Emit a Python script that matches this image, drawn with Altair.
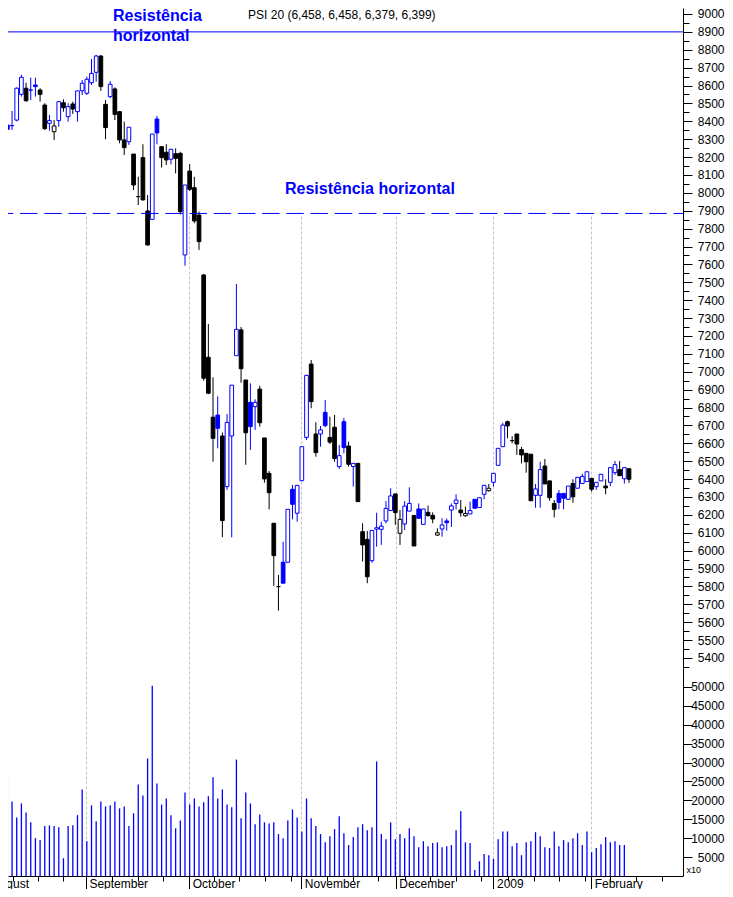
import altair as alt
import pandas as pd

FONT = "Liberation Sans"
BLUE = "#0000ff"

# ---------------- data ----------------
opens = [8379, 8379, 8376, 8407, 8551, 8585, 8575, 8603, 8575, 8491,
         8389, 8342, 8404, 8504, 8426, 8497, 8454, 8571, 8557, 8616,
         8674, 8765, 8495, 8538, 8581, 8454, 8296, 8286, 8217, 7979,
         8197, 7899, 7852, 8413, 8258, 8227, 8188, 8219, 8221, 7653,
         8122, 8029, 7876, 7541, 7081, 6746, 6758, 6641, 6358, 6641,
         7090, 7234, 6954, 6829, 6805, 6903, 6630, 6432, 6153, 5799,
         5935, 5935, 6343, 6209, 6391, 6633, 7043, 6652, 6652, 6773,
         6633, 6690, 6470, 6721, 6585, 6470, 6488, 6106, 6063, 5944,
         6120, 6119, 6166, 6224, 6317, 6097, 6149, 6221, 6197, 6233,
         6147, 6214, 6197, 6087, 6121, 6166, 6227, 6264, 6227, 6195,
         6205, 6287, 6241, 6315, 6335, 6382, 6477, 6581, 6721, 6615,
         6652, 6565, 6544, 6539, 6309, 6309, 6473, 6390, 6264, 6320,
         6320, 6287, 6375, 6349, 6375, 6386, 6404, 6358, 6390, 6361,
         6382, 6436, 6453, 6402, 6458]
highs = [8395, 8424, 8458, 8590, 8661, 8616, 8644, 8644, 8585, 8501,
         8435, 8407, 8510, 8523, 8501, 8510, 8570, 8631, 8650, 8748,
         8771, 8771, 8519, 8625, 8590, 8458, 8398, 8367, 8217, 8090,
         8272, 7988, 8329, 8430, 8262, 8272, 8244, 8249, 8230, 8044,
         8161, 8090, 7895, 7547, 7267, 6969, 6862, 6660, 6764, 6925,
         7491, 7250, 6954, 6935, 6846, 6922, 6630, 6445, 6153, 5864,
         6050, 6231, 6367, 6365, 6581, 6980, 7066, 6718, 6697, 6842,
         6749, 6758, 6591, 6742, 6609, 6488, 6488, 6153, 6110, 6113,
         6212, 6162, 6277, 6349, 6317, 6227, 6277, 6354, 6197, 6264,
         6233, 6252, 6214, 6125, 6181, 6179, 6264, 6315, 6283, 6246,
         6274, 6287, 6296, 6365, 6373, 6432, 6572, 6715, 6727, 6640,
         6652, 6580, 6544, 6539, 6373, 6497, 6512, 6390, 6283, 6339,
         6320, 6361, 6399, 6410, 6430, 6441, 6404, 6382, 6427, 6399,
         6464, 6501, 6501, 6464, 6458]
lows = [8183, 8186, 8352, 8400, 8538, 8510, 8519, 8538, 8510, 8352,
        8348, 8296, 8370, 8454, 8398, 8441, 8398, 8547, 8547, 8603,
        8622, 8570, 8300, 8529, 8407, 8277, 8212, 8268, 8016, 7932,
        7956, 7705, 7852, 8272, 8141, 8156, 8160, 8109, 7880, 7593,
        8010, 7830, 7681, 6950, 6875, 6497, 6572, 6075, 6340, 6075,
        7090, 6939, 6480, 6563, 6675, 6693, 6380, 6231, 5803, 5665,
        5818, 5935, 6175, 6162, 6391, 6619, 6796, 6525, 6581, 6690,
        6596, 6497, 6457, 6544, 6470, 6358, 6274, 5939, 5818, 5933,
        6022, 6032, 6153, 6224, 6144, 6032, 6116, 6221, 6026, 6181,
        6147, 6190, 6153, 6082, 6078, 6112, 6133, 6231, 6190, 6190,
        6205, 6237, 6241, 6287, 6330, 6358, 6477, 6581, 6628, 6600,
        6535, 6488, 6436, 6279, 6240, 6240, 6373, 6279, 6186, 6231,
        6231, 6287, 6268, 6349, 6375, 6386, 6330, 6340, 6390, 6315,
        6361, 6423, 6419, 6375, 6379]
closes = [8189, 8355, 8376, 8585, 8646, 8515, 8575, 8594, 8551, 8359,
          8404, 8374, 8510, 8476, 8482, 8469, 8570, 8613, 8635, 8668,
          8765, 8594, 8365, 8607, 8439, 8296, 8253, 8367, 8044, 7979,
          7961, 7709, 8329, 8335, 8197, 8184, 8244, 8193, 7895, 8044,
          8020, 7843, 7727, 6964, 6880, 6628, 6684, 6168, 6717, 6925,
          7237, 7017, 6659, 6693, 6829, 6715, 6401, 6324, 5972, 5799,
          5818, 6231, 6259, 6365, 6581, 6980, 6833, 6548, 6675, 6699,
          6607, 6515, 6531, 6576, 6483, 6488, 6274, 6032, 5854, 6113,
          6128, 6137, 6236, 6306, 6213, 6175, 6249, 6264, 6026, 6181,
          6233, 6196, 6177, 6100, 6144, 6156, 6250, 6283, 6212, 6208,
          6224, 6237, 6296, 6365, 6349, 6432, 6572, 6702, 6697, 6615,
          6596, 6535, 6497, 6279, 6345, 6453, 6373, 6296, 6231, 6270,
          6293, 6361, 6301, 6410, 6415, 6441, 6343, 6382, 6427, 6351,
          6464, 6481, 6419, 6464, 6399]
volumes = [24800, 26600, 19700, 15500, 19200, 16800, 14200, 10000, 9500, 13200,
           13400, 13200, 12900, 4700, 13200, 13400, 16100, 22900, 9200, 18700,
           14500, 19700, 18400, 18700, 19700, 17900, 18400, 13200, 16600, 24200,
           21300, 31100, 50300, 24500, 18900, 20500, 16100, 12600, 14700, 22100,
           18900, 20500, 18400, 19500, 21100, 26100, 20500, 22900, 18900, 18200,
           30800, 15300, 22100, 19200, 13700, 16300, 14200, 13900, 14200, 11100,
           10000, 14700, 17600, 15500, 11800, 20500, 15300, 13200, 11100, 8900,
           10500, 12400, 15800, 11300, 8200, 10300, 12900, 13700, 12100, 12900,
           30300, 11100, 9700, 14200, 9700, 11100, 10000, 12600, 10500, 7600,
           9200, 7900, 8700, 8900, 7600, 7900, 8200, 12100, 17100, 8900,
           8700, 1600, 3900, 5800, 5500, 4500, 9700, 11800, 11800, 7900,
           8700, 5500, 8900, 9200, 11600, 10500, 7600, 7400, 11800, 7900,
           9500, 8900, 10000, 11300, 8200, 11800, 6300, 7400, 8400, 10300,
           8900, 9200, 8200, 8200]

month_names = ["August", "September", "October", "November", "December", "2009", "February"]
month_idx = [-3, 17.8, 39.9, 63.9, 84.1, 105, 125.9]
week_idx = [2.2, 7.6, 12.9, 23.3, 28.9, 34.3, 45.3, 50.6, 56.2, 61.7, 69.4, 74.9,
            80.4, 86, 91.4, 96.9, 102.4, 108.1, 113.6, 119.1, 124.6, 130, 135.5, 141]
price_ticks = list(range(5350, 9001, 50))
vol_ticks = list(range(5000, 50001, 5000))
resist_solid = [8900]
resist_dashed = [7885]
series_name = "PSI 20"
annot_text = "Resistência horizontal"

# ---------------- tables ----------------
n = len(closes)
prev = [opens[0]] + closes[:-1]
col = [BLUE if c >= p else "#000000" for c, p in zip(closes, prev)]
fillc = [cl if c < o else "#ffffff" for cl, c, o in zip(col, closes, opens)]
df = pd.DataFrame({"idx": list(range(n)), "o": opens, "h": highs, "l": lows,
                   "c": closes, "col": col, "fillc": fillc})
vdf = pd.DataFrame({"idx": list(range(len(volumes))), "v": volumes, "zero": 0})

title_txt = "%s (%s, %s, %s, %s)" % (series_name, f"{opens[-1]:,}", f"{highs[-1]:,}",
                                     f"{lows[-1]:,}", f"{closes[-1]:,}")
title_df = pd.DataFrame({"idx": [52.5], "p": [8972], "t": [title_txt]})
ann1_df = pd.DataFrame({"idx": [23.6], "p": [8961], "t": [annot_text.replace(" ", "\n")]})
ann2_df = pd.DataFrame({"idx": [60.4], "p": [7996], "t": [annot_text]})
x10_df = pd.DataFrame({"idx": [146.3], "v": [900], "t": ["x10"]})
aug_df = pd.DataFrame({"idx": [month_idx[0]], "v": [-3175], "t": [month_names[0]]})
solid_df = pd.DataFrame({"p": resist_solid})
dashed_df = pd.DataFrame({"p": resist_dashed})

# ---------------- scales / axes ----------------
xscale = alt.Scale(domain=[1.134, 145.55], nice=False, zero=False, padding=0)
pscale = alt.Scale(domain=[5344, 9033.5], range=[660, 0], nice=False, zero=False)
vscale = alt.Scale(domain=[0, 55026], range=[868, 660], nice=False, zero=False)

marr = "[" + ",".join(str(m) for m in month_idx) + "]"
narr = "[" + ",".join("'%s'" % s for s in month_names) + "]"
mtest = "indexof(%s, datum.value) >= 0" % marr

x_axis = alt.Axis(
    values=sorted(month_idx + week_idx), title=None,
    grid=True, gridColor="#c4c4c4", gridDash=[3, 2], gridWidth=1,
    gridOpacity={"condition": {"test": mtest, "value": 1}, "value": 0},
    tickSize={"condition": {"test": mtest, "value": 13}, "value": 5},
    tickColor="black", domainColor="black",
    labelExpr="%s ? %s[indexof(%s, datum.value)] : ''" % (mtest, narr, marr),
    labelAlign="left", labelOffset=3, labelBaseline="alphabetic", labelPadding=-2,
    labelFont=FONT, labelFontSize=12, labelColor="black",
    labelOverlap=False, labelFlush=False, labelBound=False)

ptest = "datum.value % 100 === 0"
p_axis = alt.Axis(
    orient="right", values=price_ticks, title=None, grid=False,
    tickSize={"condition": {"test": ptest, "value": 9}, "value": 6},
    tickColor="black", domainColor="black",
    labelExpr="%s ? '' + datum.value : ''" % ptest,
    labelAlign="right", labelBaseline="middle", labelPadding=32,
    labelFont=FONT, labelFontSize=12, labelColor="black",
    labelOverlap=False, labelFlush=False)

v_axis = alt.Axis(
    orient="right", values=vol_ticks, title=None, grid=False,
    tickSize=9, tickColor="black", domainColor="black",
    labelExpr="'' + datum.value",
    labelAlign="right", labelBaseline="middle", labelPadding=32,
    labelFont=FONT, labelFontSize=12, labelColor="black",
    labelOverlap=False, labelFlush=False)


def X():
    return alt.X("idx:Q", scale=xscale, axis=x_axis, title=None)


def YP(field):
    return alt.Y(field + ":Q", scale=pscale, axis=p_axis, title=None)


def YV(field):
    return alt.Y(field + ":Q", scale=vscale, axis=v_axis, title=None)


# ---------------- price layers ----------------
wicks = alt.Chart(df).mark_rule(strokeWidth=1, clip=True).encode(
    x=X(), y=YP("l"), y2="h:Q", stroke=alt.Stroke("col:N", scale=None))
bodies = alt.Chart(df).mark_bar(size=3.7, strokeWidth=1, clip=True).encode(
    x=X(), y=YP("o"), y2="c:Q",
    fill=alt.Fill("fillc:N", scale=None), stroke=alt.Stroke("col:N", scale=None))
solid = alt.Chart(solid_df).mark_rule(color=BLUE, strokeWidth=1).encode(y=YP("p"))
dashed = alt.Chart(dashed_df).mark_rule(color=BLUE, strokeWidth=1,
                                        strokeDash=[17.5, 6.7], strokeDashOffset=8).encode(y=YP("p"))
ttl = alt.Chart(title_df).mark_text(font=FONT, fontSize=12, color="black",
                                    align="left", baseline="alphabetic").encode(
    x=X(), y=YP("p"), text="t:N")
ann1 = alt.Chart(ann1_df).mark_text(font=FONT, fontSize=16, fontWeight="bold", color=BLUE,
                                    align="left", baseline="alphabetic",
                                    lineBreak="\n", lineHeight=20).encode(
    x=X(), y=YP("p"), text="t:N")
ann2 = alt.Chart(ann2_df).mark_text(font=FONT, fontSize=16, fontWeight="bold", color=BLUE,
                                    align="left", baseline="alphabetic").encode(
    x=X(), y=YP("p"), text="t:N")

price = alt.layer(wicks, bodies, solid, dashed, ttl, ann1, ann2)

# ---------------- volume layers ----------------
vbars = alt.Chart(vdf).mark_rule(color=BLUE, strokeWidth=1.3, clip=True).encode(
    x=X(), y=YV("v"), y2="zero:Q")
x10 = alt.Chart(x10_df).mark_text(font=FONT, fontSize=9, color="black",
                                  align="left", baseline="alphabetic").encode(
    x=X(), y=YV("v"), text="t:N")
aug = alt.Chart(aug_df).mark_text(font=FONT, fontSize=12, color="black", dx=3,
                                  align="left", baseline="alphabetic").encode(
    x=X(), y=YV("v"), text="t:N")
volume = alt.layer(vbars, x10, aug)

chart = alt.layer(price, volume).resolve_scale(y="independent").properties(
    width=675, height=868,
    autosize=alt.AutoSizeParams(type="none"),
    padding={"left": 0, "top": 0, "right": 42, "bottom": 13},
    background="white",
).configure_view(stroke=None)

chart.save("out.html", embed_options={"renderer": "svg", "actions": False})
